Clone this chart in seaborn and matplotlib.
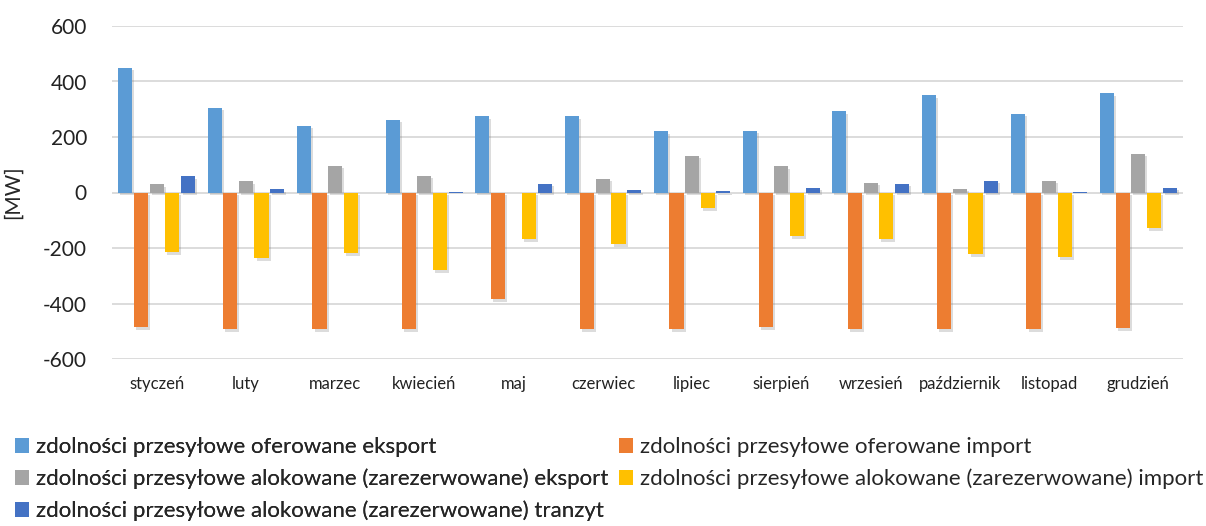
import matplotlib
matplotlib.use('Agg')
import matplotlib.pyplot as plt
import matplotlib.patheffects as pe
from matplotlib.patches import Patch
import seaborn as sns
import pandas as pd

# Data (MW)
months = ['styczeń', 'luty', 'marzec', 'kwiecień', 'maj', 'czerwiec', 'lipiec',
          'sierpień', 'wrzesień', 'październik', 'listopad', 'grudzień']
series_names = [
    'zdolności przesyłowe oferowane eksport',
    'zdolności przesyłowe oferowane import',
    'zdolności przesyłowe alokowane (zarezerwowane) eksport',
    'zdolności przesyłowe alokowane (zarezerwowane) import',
    'zdolności przesyłowe alokowane (zarezerwowane) tranzyt',
]
offered_export = [450, 306, 241, 263, 274, 274, 220, 223, 292, 350, 284, 357]
offered_import = [-486, -492, -492, -492, -384, -492, -492, -486, -492, -492, -492, -488]
alloc_export = [30, 40, 97, 61, 0, 50, 133, 94, 36, 14, 43, 140]
alloc_import = [-215, -236, -218, -280, -169, -186, -56, -157, -168, -222, -234, -128]
alloc_transit = [58, 13, 0, 2, 32, 10, 6, 18, 32, 43, 2, 18]
colors = ['#5B9BD5', '#ED7D31', '#A5A5A5', '#FFC000', '#4472C4']

rows = []
for name, vals in zip(series_names, [offered_export, offered_import, alloc_export,
                                     alloc_import, alloc_transit]):
    for m, v in zip(months, vals):
        rows.append({'miesiac': m, 'seria': name, 'MW': v})
df = pd.DataFrame(rows)

sns.set_theme(style='white')
plt.rcParams['font.family'] = ['Lato', 'DejaVu Sans']
plt.rcParams['axes.unicode_minus'] = False

fig = plt.figure(figsize=(12.06, 5.26), dpi=100)
ax = fig.add_axes([112 / 1206, 1 - 359 / 526, (1183 - 112) / 1206, (359 - 26) / 526])

sns.barplot(data=df, x='miesiac', y='MW', hue='seria', order=months,
            hue_order=series_names, palette=colors, width=0.875, gap=0.1,
            saturation=1, legend=False, linewidth=0, ax=ax)

# soft shadow like the office chart style, skip empty bars
for p in ax.patches:
    if abs(p.get_height()) > 0:
        p.set_path_effects([pe.SimplePatchShadow(offset=(1.5, -2), shadow_rgbFace='#777777', alpha=0.25),
                            pe.Normal()])
    else:
        p.set_visible(False)

ax.set_ylim(-600, 600)
ax.set_yticks(range(-600, 601, 200))
ax.yaxis.grid(True, color='#D9D9D9', linewidth=1.3)
ax.set_axisbelow(True)
for s in ax.spines.values():
    s.set_visible(False)
ax.set_xlabel('')
ax.set_ylabel('[MW]', fontsize=15)
ax.yaxis.set_label_coords(-0.083, 0.5)
ax.tick_params(axis='y', labelsize=15, length=0, pad=18, labelcolor='#222222')
ax.tick_params(axis='x', labelsize=12, length=0, pad=12, labelcolor='#222222')
ax.set_xlim(-0.5, 11.5)

handles = [Patch(facecolor=c, edgecolor='none') for c in colors]
leg_kw = dict(loc='upper left', frameon=False, fontsize=16, handlelength=0.65,
              handleheight=0.65, handletextpad=0.3, labelspacing=0.52,
              borderaxespad=0, borderpad=0)
leg1 = fig.legend([handles[i] for i in [0, 2, 4]], [series_names[i] for i in [0, 2, 4]],
                  bbox_to_anchor=(15 / 1206, 0.169), **leg_kw)
fig.add_artist(leg1)
fig.legend([handles[i] for i in [1, 3]], [series_names[i] for i in [1, 3]],
           bbox_to_anchor=(619 / 1206, 0.169), **leg_kw)

fig.savefig('out.png', dpi=100)
